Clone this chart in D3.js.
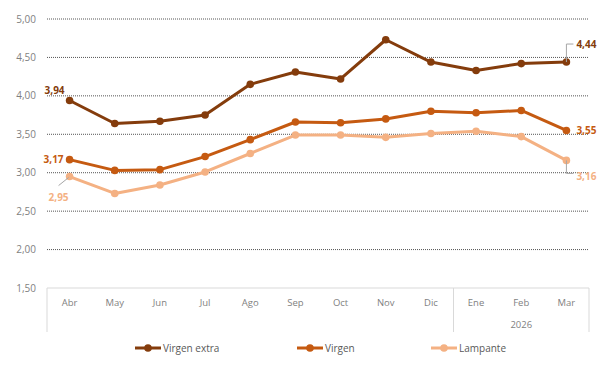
<!DOCTYPE html>
<html>
<head>
<meta charset="utf-8">
<script src="https://cdn.jsdelivr.net/npm/d3@7"></script>
<style>
  body { margin: 0; background: #fff; }
  svg text { font-family: "Open Sans", "Noto Sans", sans-serif; }
</style>
</head>
<body>
<div id="vis"></div>
<script>
// Months shown on the x axis
var months = ['Abr', 'May', 'Jun', 'Jul', 'Ago', 'Sep', 'Oct', 'Nov', 'Dic', 'Ene', 'Feb', 'Mar'];
var yearLabel = '2026';
var yearStart = 'Ene';

// Price series (EUR/kg)
var virgenExtra = [3.94, 3.64, 3.67, 3.75, 4.15, 4.31, 4.22, 4.73, 4.44, 4.33, 4.42, 4.44];
var virgen = [3.17, 3.03, 3.04, 3.21, 3.43, 3.66, 3.65, 3.70, 3.80, 3.78, 3.81, 3.55];
var lampante = [2.95, 2.73, 2.84, 3.01, 3.25, 3.49, 3.49, 3.46, 3.51, 3.54, 3.47, 3.16];

var seriesNames = ['Virgen extra', 'Virgen', 'Lampante'];
var yTicks = [1.5, 2.0, 2.5, 3.0, 3.5, 4.0, 4.5, 5.0];

(function() {
    var width = 602;
    var height = 365;
    var margin = { top: 19, right: 13, bottom: 77, left: 47 };
    var drawWidth = width - margin.left - margin.right;
    var drawHeight = height - margin.top - margin.bottom;

    var colors = ['#843C0C', '#C55A11', '#F4B183'];
    var series = [virgenExtra, virgen, lampante];

    var svg = d3.select('#vis').append('svg')
        .attr('width', width)
        .attr('height', height);

    var g = svg.append('g')
        .attr('transform', `translate(${margin.left},${margin.top})`);

    var xScale = d3.scaleBand().domain(months).range([0, drawWidth]);
    var yScale = d3.scaleLinear().domain([1.5, 5]).range([drawHeight, 0]);
    var fmt = v => d3.format('.2f')(v).replace('.', ',');

    // gridlines (dotted) + y labels
    g.selectAll('.grid').data(yTicks.filter(d => d > 1.5)).enter()
        .append('line')
        .attr('x1', 0).attr('x2', drawWidth)
        .attr('y1', d => yScale(d)).attr('y2', d => yScale(d))
        .attr('stroke', '#555').attr('stroke-width', 1)
        .attr('stroke-dasharray', '1,1');

    g.selectAll('.ylab').data(yTicks).enter()
        .append('text')
        .attr('x', -11).attr('y', d => yScale(d))
        .attr('dy', '0.35em')
        .attr('text-anchor', 'end')
        .attr('font-size', 10)
        .attr('fill', '#7f7f7f')
        .text(fmt);

    // category axis box
    var axisH = 44;
    var axisG = g.append('g').attr('transform', `translate(0,${drawHeight})`);
    axisG.append('line').attr('x1', 0).attr('x2', drawWidth).attr('y1', 0).attr('y2', 0)
        .attr('stroke', '#d9d9d9').attr('stroke-width', 1);
    var xSep = xScale(yearStart);
    [0, xSep, drawWidth].forEach(function(x) {
        axisG.append('line').attr('x1', x).attr('x2', x).attr('y1', 0).attr('y2', axisH)
            .attr('stroke', '#d9d9d9').attr('stroke-width', 1);
    });
    axisG.selectAll('.xlab').data(months).enter()
        .append('text')
        .attr('x', d => xScale(d) + xScale.bandwidth() / 2)
        .attr('y', 15)
        .attr('dy', '0.35em')
        .attr('text-anchor', 'middle')
        .attr('font-size', 9.5)
        .attr('fill', '#7f7f7f')
        .text(d => d);
    axisG.append('text')
        .attr('x', (xSep + drawWidth) / 2)
        .attr('y', 37)
        .attr('dy', '0.35em')
        .attr('text-anchor', 'middle')
        .attr('font-size', 9.5)
        .attr('fill', '#7f7f7f')
        .text(yearLabel);

    // lines and markers
    var cx = (d, i) => xScale(months[i]) + xScale.bandwidth() / 2;
    var line = d3.line().x(cx).y(d => yScale(d));

    series.slice().reverse().forEach(function(data, k) {
        var idx = series.length - 1 - k;
        g.append('path').datum(data)
            .attr('d', line)
            .attr('fill', 'none')
            .attr('stroke', colors[idx])
            .attr('stroke-width', 3)
            .attr('stroke-linejoin', 'round');
        g.selectAll('.pt' + idx).data(data).enter()
            .append('circle')
            .attr('cx', cx)
            .attr('cy', d => yScale(d))
            .attr('r', 3.8)
            .attr('fill', colors[idx]);
    });

    // data labels
    var last = months.length - 1;
    var x0 = cx(null, 0), xL = cx(null, last);
    function label(x, y, txt, color, anchor) {
        g.append('text').attr('x', x).attr('y', y).attr('dy', '0.35em')
            .attr('text-anchor', anchor).attr('font-size', 10).attr('font-weight', 'bold')
            .attr('fill', color).text(txt);
    }
    label(x0 - 5, yScale(virgenExtra[0]) - 10, fmt(virgenExtra[0]), colors[0], 'end');
    label(x0 - 6, yScale(virgen[0]), fmt(virgen[0]), colors[1], 'end');
    label(x0 - 1, yScale(lampante[0]) + 21, fmt(lampante[0]), colors[2], 'end');
    g.append('line')
        .attr('x1', x0 - 1).attr('y1', yScale(lampante[0]) + 1)
        .attr('x2', x0 - 11).attr('y2', yScale(lampante[0]) + 9)
        .attr('stroke', '#a6a6a6').attr('stroke-width', 1);

    var ye = yScale(virgenExtra[last]);
    g.append('path')
        .attr('d', `M${xL},${ye} V${ye - 18} H${xL + 7}`)
        .attr('fill', 'none').attr('stroke', '#a6a6a6').attr('stroke-width', 1);
    label(xL + 10, ye - 18, fmt(virgenExtra[last]), colors[0], 'start');
    label(xL + 10, yScale(virgen[last]), fmt(virgen[last]), colors[1], 'start');
    var yl = yScale(lampante[last]);
    g.append('path')
        .attr('d', `M${xL},${yl} V${yl + 13} H${xL + 7}`)
        .attr('fill', 'none').attr('stroke', '#a6a6a6').attr('stroke-width', 1);
    label(xL + 10, yl + 16, fmt(lampante[last]), colors[2], 'start');

    // legend
    var legendX = [135, 297, 431];
    var legendY = 348;
    seriesNames.forEach(function(name, i) {
        var lg = svg.append('g').attr('transform', `translate(${legendX[i]},${legendY})`);
        lg.append('line').attr('x1', 0).attr('x2', 26).attr('y1', 0).attr('y2', 0)
            .attr('stroke', colors[i]).attr('stroke-width', 3);
        lg.append('circle').attr('cx', 13).attr('cy', 0).attr('r', 3.8).attr('fill', colors[i]);
        lg.append('text').attr('x', 28).attr('y', 0).attr('dy', '0.35em')
            .attr('font-size', 10).attr('fill', '#595959').text(name);
    });
})();
</script>
</body>
</html>
